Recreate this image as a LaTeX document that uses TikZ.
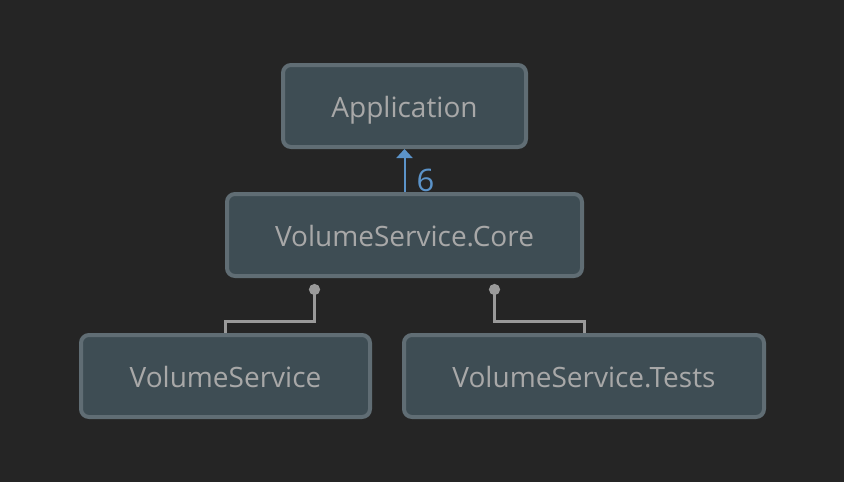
\documentclass[tikz,border=0pt]{standalone}
\usepackage{fontspec}
\setmainfont{Open Sans}
\usepackage{xcolor}
\usetikzlibrary{arrows.meta}
\definecolor{bgdark}{HTML}{252525}
\definecolor{boxfill}{HTML}{3E4D54}
\definecolor{boxline}{HTML}{606D74}
\definecolor{boxtext}{HTML}{A8A8A8}
\definecolor{usesblue}{HTML}{5B93C9}
\definecolor{depgray}{HTML}{9A9A9A}
\tikzset{
  project/.style={draw=boxline, fill=boxfill, line width=4pt, rounded corners=8pt,
    minimum height=82pt, text height=22pt, text depth=0pt, text=boxtext,
    font=\fontsize{28}{32}\selectfont},
  uses/.style={draw=usesblue, line width=2pt, -{Triangle[width=16pt,length=9pt]}},
  dep/.style={draw=depgray, line width=3pt, {Circle[length=11pt]}-, shorten <=6pt},
}

\begin{document}
\begin{tikzpicture}[x=1pt,y=-1pt]
\useasboundingbox[fill=bgdark] (0,0) rectangle (844,482);

\node[project, minimum width=243pt] (app) at (404.5,106) {Application};

\node[project, minimum width=355pt] (core) at (404.5,235) {VolumeService.Core};

\node[project, minimum width=289pt] (vs) at (225.5,376) {VolumeService};

\node[project, minimum width=360pt] (tests) at (584,376) {VolumeService.Tests};

\draw[uses] (core) -- node[pos=0.27, right, inner sep=1pt, xshift=10pt, text=usesblue, font=\fontsize{31}{34}\selectfont] {6} (app);

\draw[dep] ([xshift=-90pt]core.south) -- ++(0,43) -| (vs.north);
\draw[dep] ([xshift=90pt]core.south) -- ++(0,43) -| (tests.north);

\end{tikzpicture}
\end{document}
